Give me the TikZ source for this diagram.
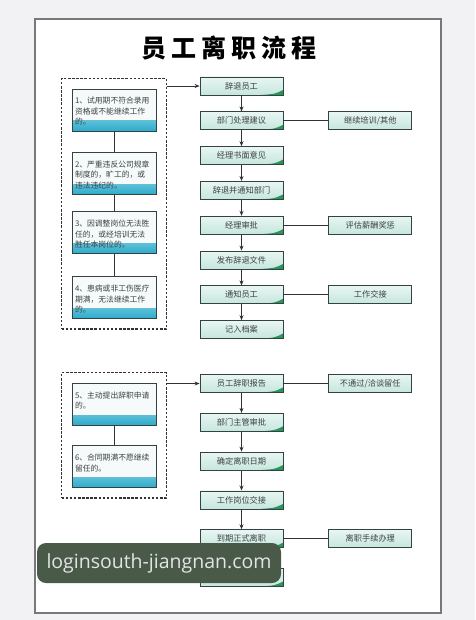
\documentclass[tikz,border=0pt]{standalone}
\usepackage{fontspec}
\setmainfont{Noto Sans CJK SC}
\newfontfamily\markfont{Open Sans}
\usepackage{xcolor}
\usepackage{tikz}
\usetikzlibrary{arrows.meta,positioning,fit,calc}

\definecolor{pagegray}{RGB}{242,242,244}
\definecolor{framegray}{RGB}{120,120,122}
\definecolor{boxline}{RGB}{52,66,66}
\definecolor{mintTop}{RGB}{232,246,242}
\definecolor{mintBot}{RGB}{198,230,222}
\definecolor{wedgegreen}{RGB}{40,150,90}
\definecolor{reasonfill}{RGB}{246,250,250}
\definecolor{cyanDeep}{RGB}{44,172,204}
\definecolor{linegray}{RGB}{50,50,50}
\definecolor{textgray}{RGB}{60,66,66}
\definecolor{markgreen}{RGB}{74,90,72}
\definecolor{markgray}{RGB}{228,228,228}

\begin{document}
\begin{tikzpicture}[
  x=1pt, y=-1pt,
  node distance=16pt and 45pt,
  stepbox/.style={draw=boxline, line width=0.8pt, minimum width=83pt,
             minimum height=18pt, inner sep=0pt, top color=mintTop,
             bottom color=mintBot, text=textgray,
             font=\fontsize{8.2}{10}\selectfont,
             path picture={\fill[wedgegreen]
               (path picture bounding box.south east)
               -- ([xshift=-22pt]path picture bounding box.south east)
               .. controls ([xshift=-8pt,yshift=1pt]path picture bounding box.south east)
               .. ([yshift=5pt]path picture bounding box.south east) -- cycle;}},
  sidebox/.style={draw=boxline, line width=0.8pt, minimum width=83pt,
             minimum height=18pt, inner sep=0pt, top color=mintTop,
             bottom color=mintBot, text=textgray,
             font=\fontsize{8.2}{10}\selectfont},
  reason/.style={draw=boxline, line width=0.8pt, fill=reasonfill,
             text width=78pt, align=left, inner sep=3pt,
             text height=12pt, text depth=24pt, text=textgray,
             font=\fontsize{7.8}{10.5}\selectfont,
             path picture={\shade[top color=reasonfill, bottom color=cyanDeep]
               ([yshift=10pt]path picture bounding box.south west)
               rectangle (path picture bounding box.south east);}},
  reasongroup/.style={draw=linegray, line width=1.3pt,
             dash pattern=on 2.5pt off 1.6pt, inner sep=10pt},
  link/.style={draw=linegray, line width=0.8pt},
  arrow/.style={-{Stealth[length=5pt,width=4pt]}, draw=linegray, line width=0.8pt}
]
% page and frame
\useasboundingbox (0,0) rectangle (475,620);
\fill[pagegray] (0,0) rectangle (475,620);
\draw[framegray, line width=1.2pt, fill=white] (35,19) rectangle (441,613);

\node[font=\bfseries\fontsize{25}{28}\selectfont\addfontfeature{LetterSpace=20}]
  (title) at (229,48) {员工离职流程};

% dismissal
\node[stepbox] (dismiss) at (241.5,86) {辞退员工};
\node[stepbox, below=of dismiss] (deptadvice) {部门处理建议};
\node[stepbox, below=of deptadvice] (mgrnote) {经理书面意见};
\node[stepbox, below=of mgrnote] (notifydept) {辞退并通知部门};
\node[stepbox, below=of notifydept] (mgrapprove) {经理审批};
\node[stepbox, below=of mgrapprove] (issuedoc) {发布辞退文件};
\node[stepbox, below=of issuedoc] (notifyemp) {通知员工};
\node[stepbox, below=of notifyemp] (archiveA) {记入档案};

\node[sidebox, right=of deptadvice] (train) {继续培训/其他};
\node[sidebox, right=of mgrapprove] (salary) {评估薪酬奖惩};
\node[sidebox, right=of notifyemp] (handoverA) {工作交接};

\node[reason] (r1) at (114,110) {1、试用期不符合录用\\资格或不能继续工作\\的。};
\node[reason] (r2) at (114,173.5) {2、严重违反公司规章\\制度的，旷工的，或\\违法违纪的。};
\node[reason] (r3) at (114,232.5) {3、因调整岗位无法胜\\任的，或经培训无法\\胜任本岗位的。};
\node[reason] (r4) at (114,297.5) {4、患病或非工伤医疗\\期满，无法继续工作\\的。};
\node[reasongroup, fit=(r1)(r4)] (grpA) {};

\draw[link] (r1) -- (r2);
\draw[link] (r2) -- (r3);
\draw[link] (r3) -- (r4);
\draw[arrow] (grpA.east |- dismiss) -- (dismiss);
\draw[arrow] (dismiss) -- (deptadvice);
\draw[arrow] (deptadvice) -- (mgrnote);
\draw[arrow] (mgrnote) -- (notifydept);
\draw[arrow] (notifydept) -- (mgrapprove);
\draw[arrow] (mgrapprove) -- (issuedoc);
\draw[arrow] (issuedoc) -- (notifyemp);
\draw[arrow] (notifyemp) -- (archiveA);
\draw[link] (deptadvice) -- (train);
\draw[link] (mgrapprove) -- (salary);
\draw[link] (notifyemp) -- (handoverA);

% resignation
\node[stepbox] (report) at (241.5,383.5) {员工辞职报告};
\node[stepbox, below=20pt of report] (supervisor) {部门主管审批};
\node[stepbox, below=20pt of supervisor] (leavedate) {确定离职日期};
\node[stepbox, below=20pt of leavedate] (handoverB) {工作岗位交接};
\node[stepbox, below=20pt of handoverB] (leave) {到期正式离职};
\node[stepbox, below=20pt of leave] (archiveB) {记入档案};

\node[sidebox, right=of report] (retain) {不通过/洽谈留任};
\node[sidebox, right=of leave] (procedure) {离职手续办理};

\node[reason] (r5) at (114,404) {5、主动提出辞职申请\\的。};
\node[reason] (r6) at (114,466.5) {6、合同期满不愿继续\\留任的。};
\node[reasongroup, fit=(r5)(r6)] (grpB) {};

\draw[link] (r5) -- (r6);
\draw[arrow] (grpB.east |- report) -- (report);
\draw[arrow] (report) -- (supervisor);
\draw[arrow] (supervisor) -- (leavedate);
\draw[arrow] (leavedate) -- (handoverB);
\draw[arrow] (handoverB) -- (leave);
\draw[arrow] (leave) -- (archiveB);
\draw[link] (report) -- (retain);
\draw[link] (leave) -- (procedure);

% watermark
\node[fill=markgreen, rounded corners=9pt, minimum width=244pt,
      minimum height=40pt, text=markgray,
      font=\markfont\fontsize{19.5}{22}\selectfont]
  (mark) at (159,563) {loginsouth-jiangnan.com};
\end{tikzpicture}
\end{document}
